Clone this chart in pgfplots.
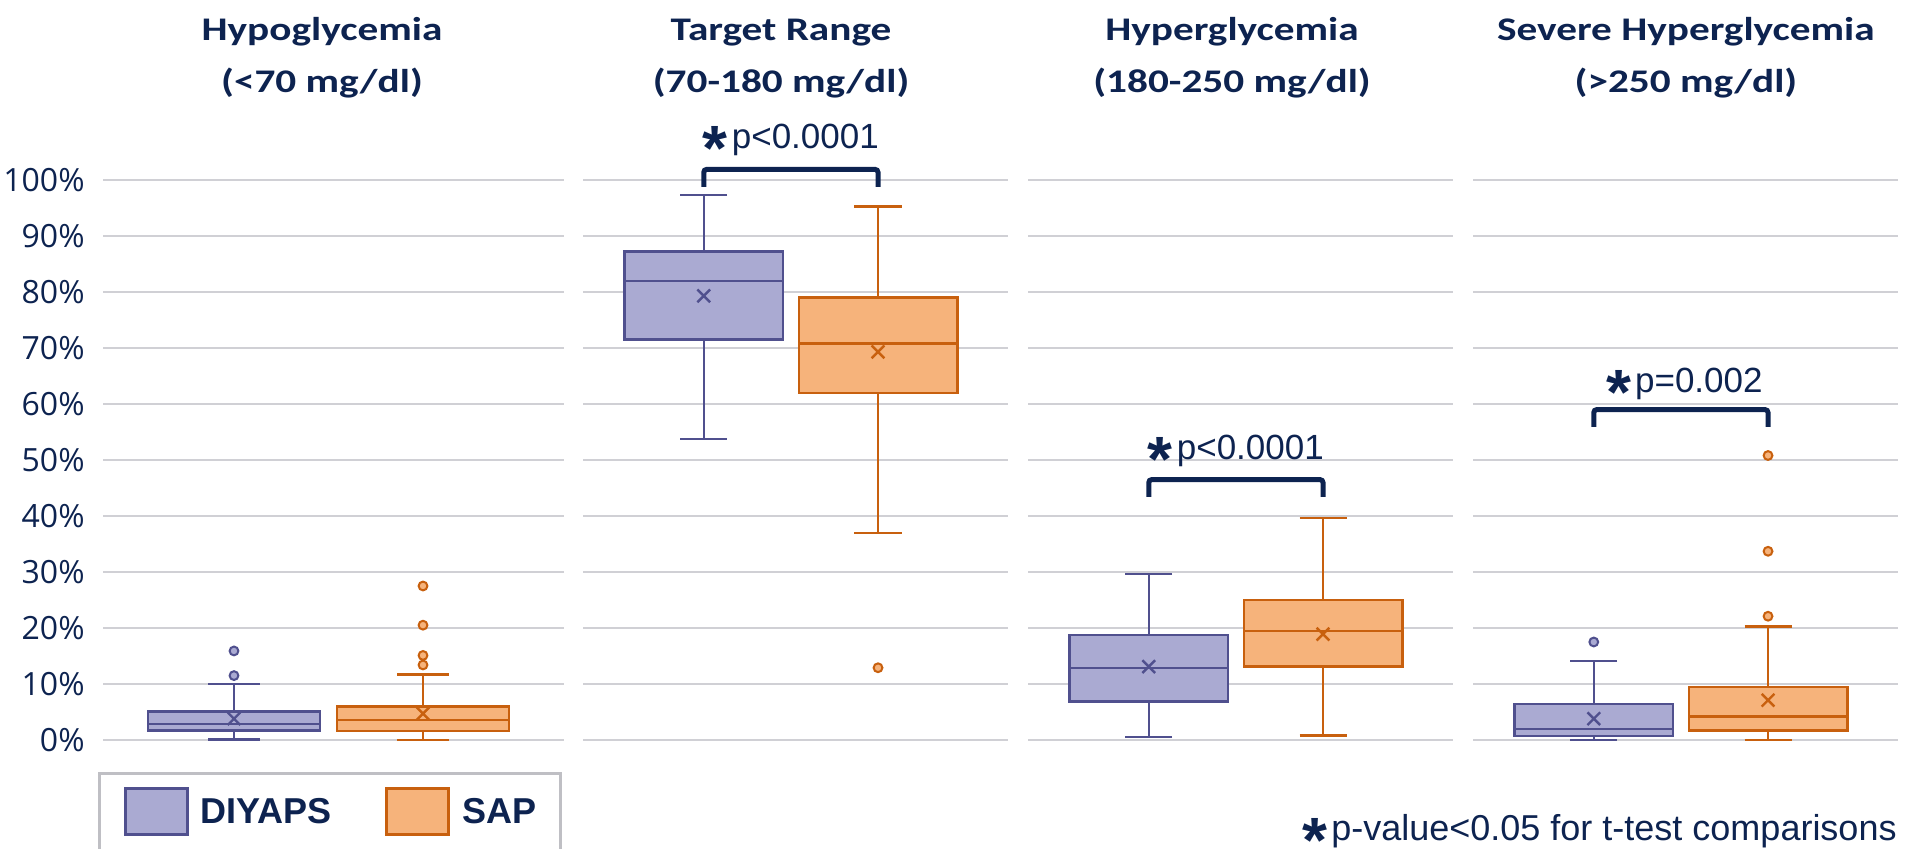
\documentclass[border=0pt]{standalone}
\usepackage{graphicx}
\usepackage{fontspec}
\setmainfont{Liberation Sans}
\newfontfamily\titlefont{Carlito}
\newfontfamily\tickfont{Open Sans}
\usepackage{pgfplots}
\pgfplotsset{compat=1.18}
\usepgfplotslibrary{statistics}
\definecolor{navy}{HTML}{0D2350}
\definecolor{diyfill}{HTML}{AAAAD2}
\definecolor{diyedge}{HTML}{50508E}
\definecolor{sapfill}{HTML}{F6B37B}
\definecolor{sapedge}{HTML}{C8600E}
\definecolor{gridc}{HTML}{D0D0D5}
\definecolor{legc}{HTML}{BFBFC4}
\newcommand\pstar{\raisebox{-11pt}[0pt][0pt]{\fontsize{32}{32}\selectfont\bfseries *}\hspace{2pt}}
\newcommand\ttl[2]{\scalebox{1.25}[1]{#1}\\\scalebox{1.25}[1]{#2}}
\tikzset{pnode/.style={anchor=base, inner sep=0pt, text=navy, font=\fontsize{17.5}{17.5}\selectfont}}
\pgfplotsset{
  panel/.style={scale only axis, height=280pt, width=212.5pt,
    ymin=0, ymax=100, xmin=-0.693, xmax=1.746, clip=false,
    axis line style={draw=none}, xtick=\empty,
    ytick={0,10,20,30,40,50,60,70,80,90,100}, yticklabels={},
    ymajorgrids, major grid style={draw=gridc, line width=1pt},
    major tick length=0pt, anchor=south west,
    title style={anchor=base, inner sep=0pt, yshift=37.75pt,
      font=\titlefont\bfseries\fontsize{16.5}{25.75}\selectfont, text=navy, align=center},
    boxplot/draw direction=y,
    boxplot/box extend=0.91, boxplot/whisker extend=0.27,
    boxplot/every average/.style={/tikz/mark=x, /tikz/mark size=4.5pt},
  },
  diy/.style={draw=diyedge, fill=diyfill, line width=1.2pt, solid, mark=*, mark size=2.2pt,
    mark options={fill=diyfill, draw=diyedge, line width=1pt}},
  sap/.style={draw=sapedge, fill=sapfill, line width=1.2pt, solid, mark=*, mark size=2.2pt,
    mark options={fill=sapfill, draw=sapedge, line width=1pt}},
  brk/.style={navy, line width=2.5pt, rounded corners=1.5pt, mark=none, forget plot},
}
\begin{document}
\begin{tikzpicture}
% ---------------- Panel 1: Hypoglycemia
\begin{axis}[panel, at={(51.5pt,54.5pt)}, width=230.5pt,
  title={\ttl{Hypoglycemia}{(<70 mg/dl)}},
  title style={at={(0.475,1)}},
  yticklabels={0\%,10\%,20\%,30\%,40\%,50\%,60\%,70\%,80\%,90\%,100\%},
  yticklabel style={font=\tickfont\fontsize{16}{16}\selectfont, text=navy, inner sep=0pt, xshift=-9pt},
  legend style={at={(0,0)}, anchor=north west, xshift=-2.5pt, yshift=-16pt,
    draw=legc, line width=1.5pt, fill=white, font=\bfseries\fontsize{18}{18}\selectfont,
    text=navy, legend columns=2, inner xsep=12pt, inner ysep=7pt,
    /tikz/every odd column/.append style={column sep=6pt},
    /tikz/every even column/.append style={column sep=27pt},
    nodes={inner sep=0pt}},
  legend image code/.code={\draw[#1, line width=1.5pt] (0.75pt,-11.5pt) rectangle (31.75pt,11.5pt);},
]
\addlegendimage{draw=diyedge, fill=diyfill}
\addlegendentry{DIYAPS}
\addlegendimage{draw=sapedge, fill=sapfill}
\addlegendentry{SAP}
\addplot[diy, boxplot prepared={draw position=0, lower whisker=0.1, lower quartile=1.7,
  median=2.9, average=3.8, upper quartile=5.1, upper whisker=10.0}]
  table[row sep=\\, y index=0] {v\\ 11.5\\ 15.9\\};
\addplot[sap, boxplot prepared={draw position=1, lower whisker=0.0, lower quartile=1.6,
  median=3.6, average=4.7, upper quartile=6.0, upper whisker=11.7}]
  table[row sep=\\, y index=0] {v\\ 13.4\\ 15.1\\ 20.5\\ 27.5\\};
\end{axis}
% ---------------- Panel 2: Target range
\begin{axis}[panel, at={(291.5pt,54.5pt)},
  title={\ttl{Target Range}{(70-180 mg/dl)}},
  title style={at={(0.466,1)}},
]
\addplot[diy, boxplot prepared={draw position=0, lower whisker=53.8, lower quartile=71.5,
  median=82.0, average=79.3, upper quartile=87.2, upper whisker=97.3}]
  coordinates {};
\addplot[sap, boxplot prepared={draw position=1, lower whisker=37.0, lower quartile=62.0,
  median=70.8, average=69.3, upper quartile=79.0, upper whisker=95.3}]
  table[row sep=\\, y index=0] {v\\ 12.9\\};
\addplot[brk] coordinates {(0,98.75) (0,101.9) (1,101.9) (1,98.75)};
\node[pnode] at (axis cs:0.5,105.7) {\pstar p<0.0001};
\end{axis}
% ---------------- Panel 3: Hyperglycemia
\begin{axis}[panel, at={(514pt,54.5pt)},
  title={\ttl{Hyperglycemia}{(180-250 mg/dl)}},
  title style={at={(0.48,1)}},
]
\addplot[diy, boxplot prepared={draw position=0, lower whisker=0.5, lower quartile=6.9,
  median=12.9, average=13.1, upper quartile=18.7, upper whisker=29.6}]
  coordinates {};
\addplot[sap, boxplot prepared={draw position=1, lower whisker=0.8, lower quartile=13.1,
  median=19.5, average=18.9, upper quartile=25.0, upper whisker=39.6}]
  coordinates {};
\addplot[brk] coordinates {(0,43.4) (0,46.5) (1,46.5) (1,43.4)};
\node[pnode] at (axis cs:0.5,50.0) {\pstar p<0.0001};
\end{axis}
% ---------------- Panel 4: Severe hyperglycemia
\begin{axis}[panel, at={(736.5pt,54.5pt)},
  title={\ttl{Severe Hyperglycemia}{(>250 mg/dl)}},
  title style={at={(0.501,1)}},
]
\addplot[diy, boxplot prepared={draw position=0, lower whisker=0.0, lower quartile=0.7,
  median=2.0, average=3.8, upper quartile=6.4, upper whisker=14.1}]
  table[row sep=\\, y index=0] {v\\ 17.5\\};
\addplot[sap, boxplot prepared={draw position=1, lower whisker=0.0, lower quartile=1.7,
  median=4.2, average=7.1, upper quartile=9.5, upper whisker=20.3}]
  table[row sep=\\, y index=0] {v\\ 22.1\\ 33.7\\ 50.8\\};
\addplot[brk] coordinates {(0,55.9) (0,59.0) (1,59.0) (1,55.9)};
\node[pnode] at (axis cs:0.52,62.1) {\pstar p=0.002};
\end{axis}
\node[anchor=base west, inner sep=0pt, text=navy, font=\fontsize{18}{18}\selectfont]
  at (651pt,4pt) {\pstar p-value<0.05 for t-test comparisons};
\pgfresetboundingbox
\useasboundingbox (0,0) rectangle (957.5pt,424.5pt);
\end{tikzpicture}
\end{document}
